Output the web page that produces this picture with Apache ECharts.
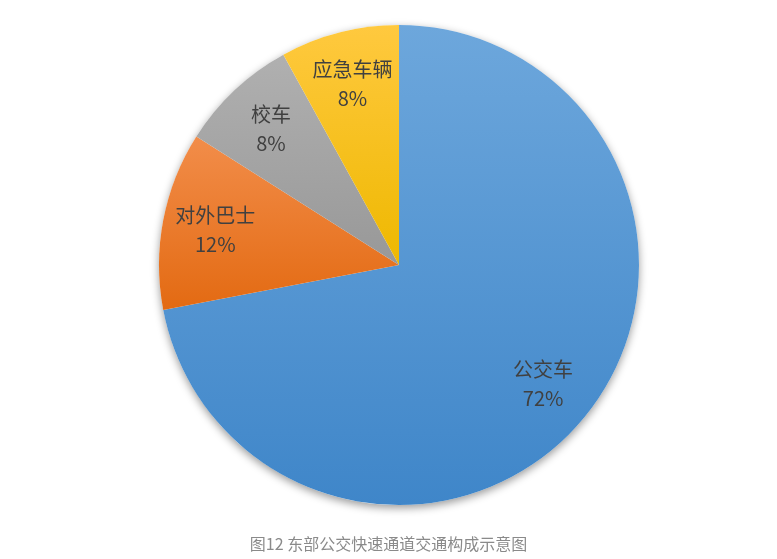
<!DOCTYPE html>
<html>
<head>
<meta charset="utf-8">
<script src="https://cdn.jsdelivr.net/npm/echarts@6/dist/echarts.min.js"></script>
<style>
html,body{margin:0;padding:0;background:#fff;}
#c{width:777px;height:559px;}
</style>
</head>
<body>
<div id="c"></div>
<script>
const categories = ['公交车', '对外巴士', '校车', '应急车辆'];
const values = [72, 12, 8, 8];
const caption = '图12 东部公交快速通道交通构成示意图';
const topColors = ['#6DA7DC', '#F28D4A', '#B0B0B0', '#FFC93F'];
const bottomColors = ['#3F86C9', '#E36A12', '#989898', '#EEB800'];

const chart = echarts.init(document.getElementById('c'));
const FONT = '"Noto Sans CJK SC", "Noto Sans", sans-serif';

const mainData = categories.map((name, i) => ({
  name,
  value: values[i],
  itemStyle: {
    color: new echarts.graphic.LinearGradient(0, 0, 0, 1, [
      { offset: 0, color: topColors[i] },
      { offset: 1, color: bottomColors[i] }
    ])
  }
}));
const labelData = categories.map((name, i) => ({ name, value: values[i] }));

chart.setOption({
  animation: false,
  title: {
    text: caption,
    left: 'center',
    top: 531,
    textStyle: { fontFamily: FONT, fontSize: 16, fontWeight: 'normal', color: '#8a8a8a' }
  },
  series: [
    {
      type: 'pie',
      center: [399, 265],
      radius: [0, 240],
      silent: true,
      z: 1,
      label: { show: false },
      labelLine: { show: false },
      itemStyle: {
        color: '#ffffff',
        shadowBlur: 8,
        shadowOffsetY: 3,
        shadowColor: 'rgba(0,0,0,0.4)'
      },
      data: [{ name: 'bg', value: 1 }]
    },
    {
      type: 'pie',
      center: [399, 265],
      radius: [0, 240],
      startAngle: 90,
      clockwise: true,
      z: 2,
      silent: true,
      label: { show: false },
      labelLine: { show: false },
      itemStyle: { borderWidth: 0 },
      data: mainData
    },
    {
      type: 'pie',
      center: [399, 265],
      radius: [128, 240],
      startAngle: 90,
      clockwise: true,
      z: 3,
      silent: true,
      itemStyle: { color: 'rgba(0,0,0,0)', borderWidth: 0 },
      labelLine: { show: false },
      label: {
        show: true,
        position: 'inside',
        formatter: '{b}\n{d}%',
        fontFamily: FONT,
        fontSize: 20,
        lineHeight: 29,
        color: '#404040'
      },
      data: labelData
    }
  ]
});
</script>
</body>
</html>
